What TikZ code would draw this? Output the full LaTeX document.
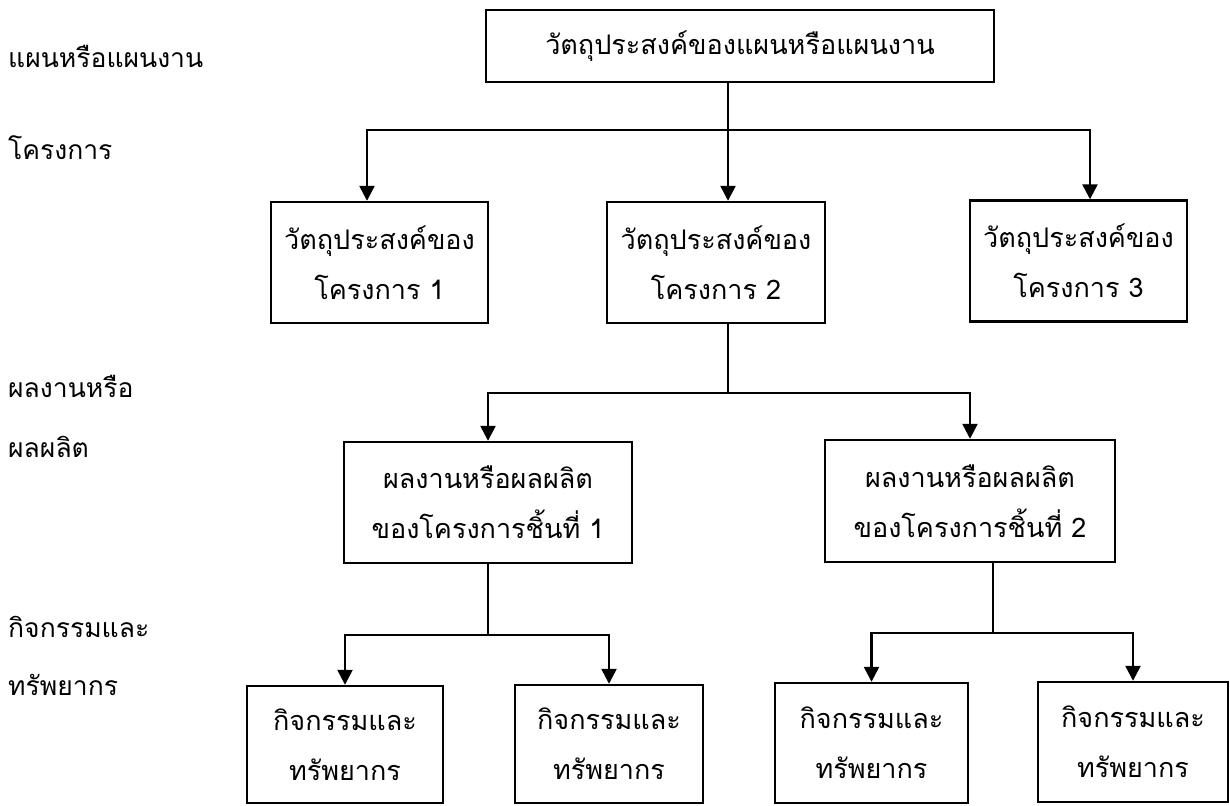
\documentclass[tikz,border=0pt]{standalone}
\usepackage{fontspec}
\newfontfamily\thaifont[Script=Thai]{Loma}
\usetikzlibrary{arrows.meta}
\begin{document}
\begin{tikzpicture}[x=1pt,y=-1pt,
  box/.style={draw, line width=2.4pt, inner sep=0pt, align=center, font=\thaifont\fontsize{27}{50}\selectfont, minimum height=121pt},
  lbl/.style={anchor=base west, inner sep=0pt, font=\thaifont\fontsize{26.5}{30}\selectfont},
  arr/.style={line width=2.4pt, -{Triangle[width=15pt,length=15pt]}},
  ln/.style={line width=2.4pt}]
\useasboundingbox (0,0) rectangle (1230,805);
\fill[white] (0,0) rectangle (1230,805);
% left labels
\node[lbl] (l1) at (8,68) {แผนหรือแผนงาน};
\node[lbl] (l2) at (8,160) {โครงการ};
\node[lbl] (l3) at (8,397) {ผลงานหรือ};
\node[lbl] (l4) at (8,457) {ผลผลิต};
\node[lbl] (l5) at (8,637) {กิจกรรมและ};
\node[lbl] (l6) at (8,695) {ทรัพยากร};
% boxes
\node[box, minimum width=508pt, minimum height=72pt] (top) at (740,46) {วัตถุประสงค์ของแผนหรือแผนงาน};
\node[box, minimum width=217pt] (p1) at (379.5,262.5) {วัตถุประสงค์ของ\\โครงการ 1};
\node[box, minimum width=218pt] (p2) at (716,262.5) {วัตถุประสงค์ของ\\โครงการ 2};
\node[box, minimum width=217pt] (p3) at (1078.5,261) {วัตถุประสงค์ของ\\โครงการ 3};
\node[box, minimum width=288pt] (r1) at (488,502.5) {ผลงานหรือผลผลิต\\ของโครงการชิ้นที่ 1};
\node[box, minimum width=290pt, minimum height=122pt] (r2) at (970,501) {ผลงานหรือผลผลิต\\ของโครงการชิ้นที่ 2};
\node[box, minimum width=196pt, minimum height=117pt] (a1) at (345,744.5) {กิจกรรมและ\\ทรัพยากร};
\node[box, minimum width=188pt, minimum height=118pt] (a2) at (609,744) {กิจกรรมและ\\ทรัพยากร};
\node[box, minimum width=193pt, minimum height=120pt] (a3) at (871.5,743) {กิจกรรมและ\\ทรัพยากร};
\node[box, minimum width=190pt, minimum height=120pt] (a4) at (1133,742) {กิจกรรมและ\\ทรัพยากร};
% connectors
\coordinate (j1) at (728,130);
\draw[ln] (top.south -| j1) -- (j1);
\draw[arr] (j1) -- (p2.north -| j1);
\draw[arr] (j1) -| ([xshift=-12.5pt]p1.north);
\draw[arr] (j1) -| ([xshift=11.5pt]p3.north);
\coordinate (j2) at (728,393);
\draw[ln] (p2.south -| j2) -- (j2);
\draw[arr] (j2) -| (r1.north);
\draw[arr] (j2) -| (r2.north);
\coordinate (j3) at (488,635);
\draw[ln] (r1.south) -- (j3);
\draw[arr] (j3) -| (a1.north);
\draw[arr] (j3) -| (a2.north);
\coordinate (j4) at (993,633);
\draw[ln] (r2.south -| j4) -- (j4);
\draw[arr] (j4) -| (a3.north);
\draw[arr] (j4) -| (a4.north);
\end{tikzpicture}
\end{document}
